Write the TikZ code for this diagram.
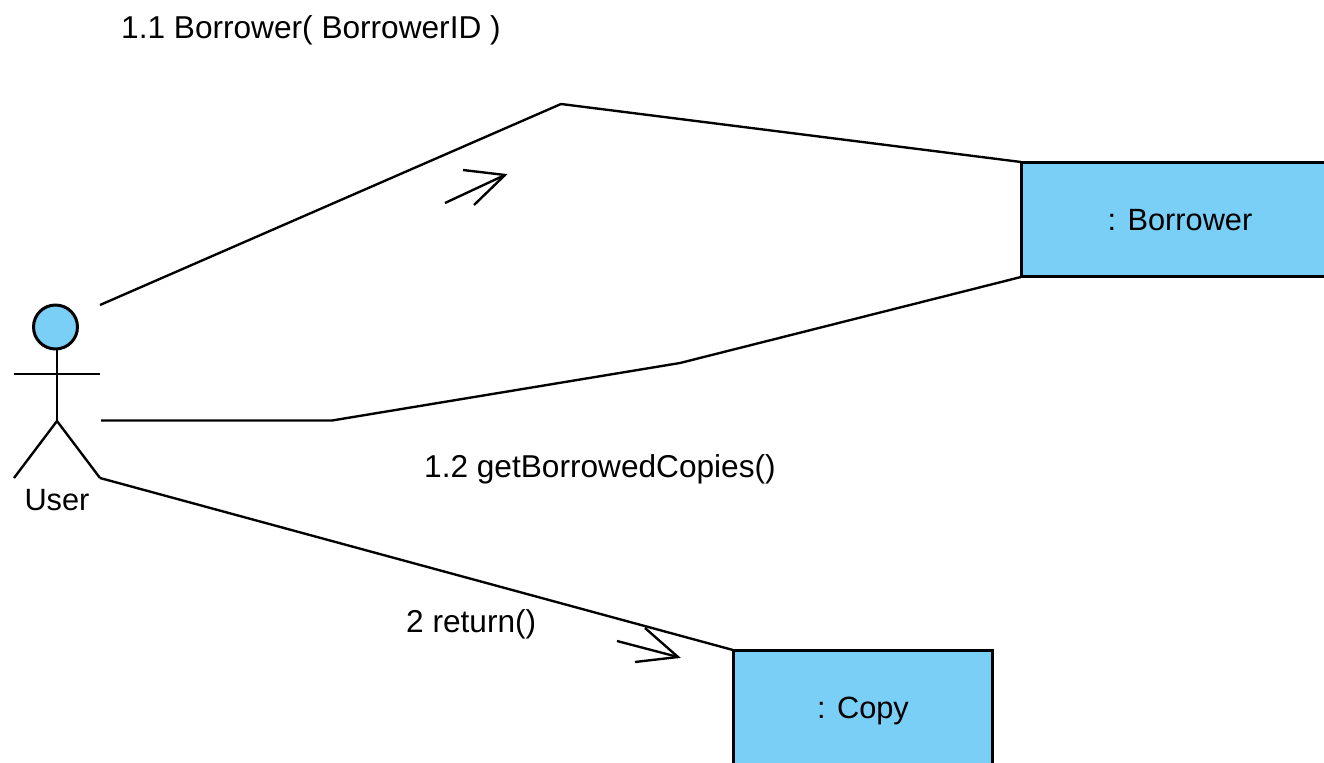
\documentclass[tikz,border=0pt]{standalone}
\usepackage{fontspec}
\setmainfont{Liberation Sans}
\definecolor{boxblue}{HTML}{79CFF5}
\tikzset{every picture/.style={line width=1.35pt}}
\tikzset{objbox/.style={draw=black,fill=boxblue,line width=1.7pt,inner sep=0pt,outer sep=0pt,text depth=0pt,font=\fontsize{17.5}{20}\selectfont}}
\tikzset{msg/.style={inner sep=0pt,anchor=west,font=\fontsize{18}{20}\selectfont}}
\begin{document}
\begin{tikzpicture}[x=0.02cm,y=-0.02cm]
\useasboundingbox (0,0) rectangle (1324,763);
% objects
\node [objbox,minimum width=6.36cm,minimum height=2.3cm] (borrower) at (1180,219.5) {: Borrower};
\node [objbox,minimum width=5.2cm,minimum height=2.32cm] (copy) at (863,708) {: Copy};
% actor
\node [draw=black,fill=boxblue,circle,line width=1.7pt,minimum size=0.88cm,inner sep=0pt,outer sep=0pt] (head) at (55.5,327) {};
\coordinate (neck) at (57,349);
\coordinate (hip) at (57,421);
\coordinate (armL) at (14,374);
\coordinate (armR) at (100,374);
\coordinate (footL) at (14,478);
\coordinate (footR) at (100,478);
\draw [line width=1.7pt] (neck) -- (hip);
\draw [line width=1.7pt] (armL) -- (armR);
\draw (footL) -- (hip) -- (footR);
\node [inner sep=0pt,font=\fontsize{17.5}{20}\selectfont] (user) at (57,500) {User};
% links
\coordinate (a1) at (100,305);
\coordinate (a2) at (561,104);
\coordinate (b1) at (101,420.5);
\coordinate (b2) at (332,420.5);
\coordinate (b3) at (680,363);
\draw (a1) -- (a2) -- (borrower.north west);
\draw (b1) -- (b2) -- (b3) -- (borrower.south west);
\draw (footR) -- (copy.north west);
% message arrows
\coordinate (t1) at (505,175);
\coordinate (t1s) at (445,203);
\coordinate (t1a) at (463,170);
\coordinate (t1b) at (474,205);
\draw (t1s) -- (t1);
\draw (t1a) -- (t1) -- (t1b);
\coordinate (t2) at (678,657);
\coordinate (t2s) at (617,641);
\coordinate (t2a) at (645,628);
\coordinate (t2b) at (635,662);
\draw (t2s) -- (t2);
\draw (t2a) -- (t2) -- (t2b);
% labels
\node [msg] (m1) at (120,30) {1.1 Borrower( BorrowerID )};
\node [msg] (m2) at (423,469) {1.2 getBorrowedCopies()};
\node [msg] (m3) at (405,624) {2 return()};
\end{tikzpicture}
\end{document}
